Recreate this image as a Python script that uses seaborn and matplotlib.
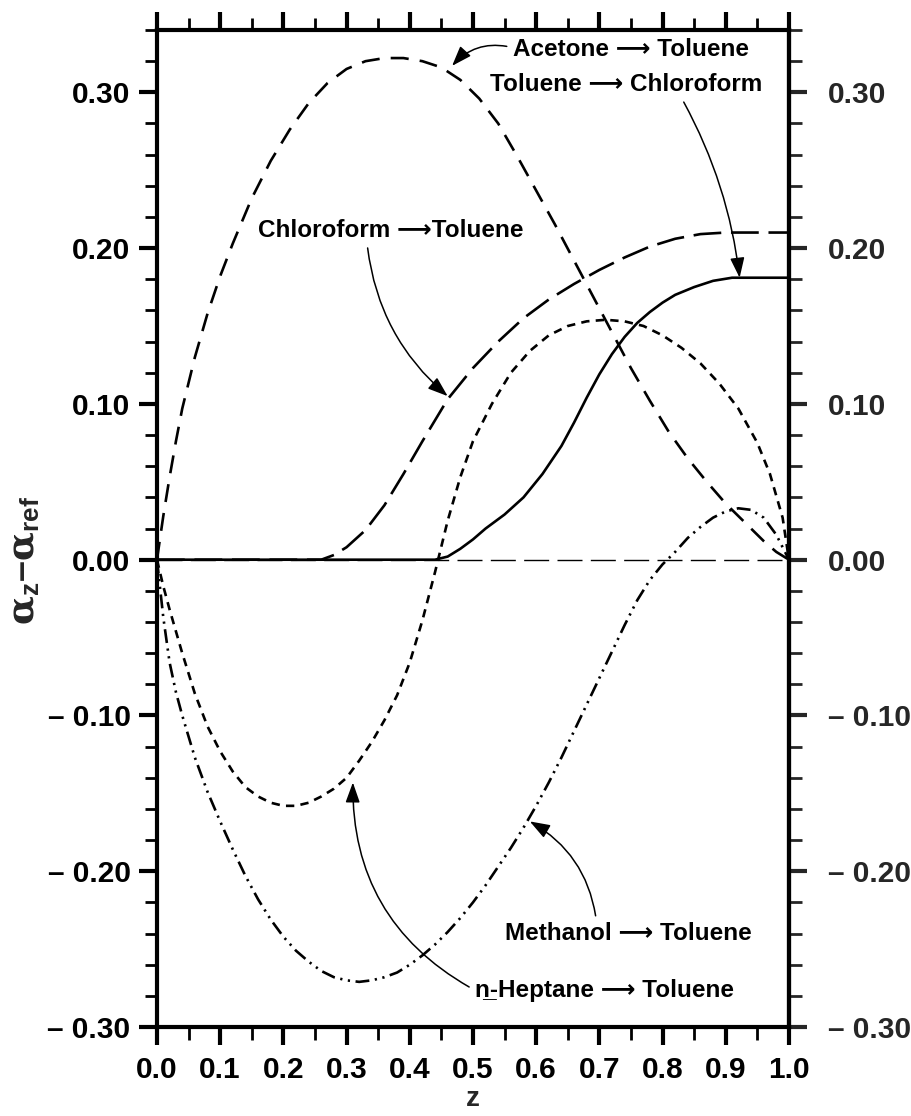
import matplotlib
matplotlib.use("Agg")
import matplotlib.pyplot as plt
import seaborn as sns
from matplotlib.ticker import FixedLocator, MultipleLocator

# ---- data: excess-polarizability profiles along the mixing coordinate z ----
acetone_z = [0.00, 0.01, 0.02, 0.03, 0.04, 0.06, 0.08, 0.10, 0.12, 0.15, 0.18, 0.21,
             0.24, 0.27, 0.30, 0.33, 0.36, 0.39, 0.42, 0.45, 0.48, 0.51, 0.54, 0.57,
             0.60, 0.63, 0.66, 0.69, 0.72, 0.75, 0.78, 0.81, 0.84, 0.87, 0.90, 0.93,
             0.96, 0.98, 1.00]
acetone_y = [0.000, 0.028, 0.053, 0.076, 0.097, 0.130, 0.158, 0.182, 0.203, 0.232, 0.256, 0.276,
             0.293, 0.306, 0.315, 0.320, 0.322, 0.322, 0.320, 0.316, 0.308, 0.296, 0.280, 0.259,
             0.237, 0.215, 0.192, 0.169, 0.146, 0.123, 0.102, 0.082, 0.065, 0.050, 0.036, 0.024,
             0.012, 0.005, 0.000]

chloro_tol_z = [0.00, 0.26, 0.28, 0.30, 0.33, 0.36, 0.39, 0.42, 0.46, 0.50, 0.54, 0.58,
                0.62, 0.66, 0.70, 0.74, 0.78, 0.82, 0.86, 0.90, 0.95, 1.00]
chloro_tol_y = [0.000, 0.000, 0.003, 0.008, 0.019, 0.035, 0.055, 0.076, 0.103, 0.123, 0.140, 0.155,
                0.167, 0.177, 0.186, 0.194, 0.201, 0.206, 0.209, 0.210, 0.210, 0.210]

tol_chloro_z = [0.00, 0.44, 0.46, 0.48, 0.50, 0.52, 0.55, 0.58, 0.61, 0.64, 0.66, 0.68,
                0.70, 0.72, 0.74, 0.76, 0.78, 0.80, 0.82, 0.85, 0.88, 0.91, 0.95, 1.00]
tol_chloro_y = [0.000, 0.000, 0.002, 0.007, 0.013, 0.020, 0.029, 0.040, 0.055, 0.073, 0.088, 0.104,
                0.119, 0.132, 0.143, 0.152, 0.159, 0.165, 0.170, 0.175, 0.179, 0.181, 0.181, 0.181]

heptane_z = [0.00, 0.01, 0.02, 0.04, 0.06, 0.08, 0.10, 0.12, 0.14, 0.16, 0.18, 0.20,
             0.22, 0.24, 0.26, 0.28, 0.30, 0.32, 0.34, 0.36, 0.38, 0.40, 0.42, 0.44,
             0.46, 0.48, 0.50, 0.53, 0.56, 0.59, 0.62, 0.65, 0.68, 0.71, 0.74, 0.77,
             0.80, 0.83, 0.86, 0.89, 0.92, 0.95, 0.97, 0.99, 1.00]
heptane_y = [0.000, -0.017, -0.032, -0.060, -0.086, -0.107, -0.123, -0.136, -0.146, -0.152, -0.156, -0.158,
             -0.158, -0.156, -0.152, -0.147, -0.140, -0.129, -0.117, -0.103, -0.087, -0.066, -0.039, -0.008,
             0.025, 0.053, 0.076, 0.100, 0.120, 0.134, 0.144, 0.150, 0.153, 0.154, 0.153, 0.150,
             0.144, 0.136, 0.126, 0.113, 0.097, 0.075, 0.055, 0.027, 0.000]

methanol_z = [0.00, 0.01, 0.02, 0.03, 0.04, 0.06, 0.08, 0.10, 0.12, 0.14, 0.16, 0.18,
              0.20, 0.22, 0.24, 0.26, 0.28, 0.30, 0.32, 0.34, 0.36, 0.38, 0.40, 0.42,
              0.44, 0.46, 0.48, 0.50, 0.52, 0.54, 0.56, 0.58, 0.60, 0.62, 0.64, 0.66,
              0.68, 0.70, 0.72, 0.74, 0.76, 0.78, 0.80, 0.82, 0.84, 0.86, 0.88, 0.90,
              0.92, 0.94, 0.96, 0.98, 1.00]
methanol_y = [0.000, -0.037, -0.066, -0.085, -0.100, -0.127, -0.149, -0.168, -0.186, -0.203, -0.218, -0.231,
              -0.242, -0.251, -0.258, -0.264, -0.268, -0.270, -0.271, -0.270, -0.268, -0.265, -0.260, -0.254,
              -0.247, -0.239, -0.230, -0.220, -0.209, -0.197, -0.185, -0.172, -0.158, -0.143, -0.127, -0.110,
              -0.093, -0.076, -0.059, -0.042, -0.026, -0.013, -0.003, 0.005, 0.014, 0.021, 0.027, 0.031,
              0.033, 0.032, 0.027, 0.016, 0.000]

x_ticks = [0.0, 0.1, 0.2, 0.3, 0.4, 0.5, 0.6, 0.7, 0.8, 0.9, 1.0]
x_tick_labels = ["0.0", "0.1", "0.2", "0.3", "0.4", "0.5", "0.6", "0.7", "0.8", "0.9", "1.0"]
y_ticks = [-0.30, -0.20, -0.10, 0.00, 0.10, 0.20, 0.30]
y_tick_labels = ["\u2013 0.30", "\u2013 0.20", "\u2013 0.10", "0.00", "0.10", "0.20", "0.30"]

pair_labels = {
    "acetone": "Acetone \u27f6 Toluene",
    "tol_chloro": "Toluene \u27f6 Chloroform",
    "chloro_tol": "Chloroform \u27f6Toluene",
    "methanol": "Methanol \u27f6 Toluene",
    "heptane": "n\u0332-Heptane \u27f6 Toluene",
}

# ---- style ----
sns.set_theme(style="ticks")
plt.rcParams["font.family"] = ["Liberation Sans", "DejaVu Sans"]
plt.rcParams["font.weight"] = "bold"
plt.rcParams["lines.scale_dashes"] = False
plt.rcParams["axes.linewidth"] = 3
plt.rcParams["mathtext.fontset"] = "custom"
plt.rcParams["mathtext.rm"] = "DejaVu Serif"
plt.rcParams["mathtext.it"] = "DejaVu Serif:italic"
plt.rcParams["mathtext.bf"] = "Liberation Sans:bold"

fig = plt.figure(figsize=(9.11, 11.16), dpi=100)
fig.patch.set_facecolor("white")
ax = fig.add_axes([0.1723, 0.0797, 0.6937, 0.8934])
ax.set_facecolor("white")

ink = "black"
ax.axhline(0, color=ink, lw=1.0, linestyle=(0, (18, 6)), zorder=1)

sns.lineplot(x=acetone_z, y=acetone_y, ax=ax, color=ink, lw=1.9,
             linestyle=(0, (13, 8)), estimator=None, sort=False)
sns.lineplot(x=chloro_tol_z, y=chloro_tol_y, ax=ax, color=ink, lw=1.9,
             linestyle=(0, (20, 7)), estimator=None, sort=False)
sns.lineplot(x=tol_chloro_z, y=tol_chloro_y, ax=ax, color=ink, lw=1.9,
             linestyle="-", estimator=None, sort=False)
sns.lineplot(x=heptane_z, y=heptane_y, ax=ax, color=ink, lw=1.9,
             linestyle=(0, (6, 4.5)), estimator=None, sort=False)
sns.lineplot(x=methanol_z, y=methanol_y, ax=ax, color=ink, lw=1.9,
             linestyle=(0, (10, 4, 1.6, 4, 1.6, 4)), estimator=None, sort=False)

ax.set_xlim(0, 1.0)
ax.set_ylim(-0.30, 0.34)

# ---- axes, ticks ----
tick_fs = 21.5
ax.xaxis.set_major_locator(FixedLocator(x_ticks))
ax.set_xticklabels(x_tick_labels)
ax.xaxis.set_minor_locator(MultipleLocator(0.05))
ax.yaxis.set_major_locator(FixedLocator(y_ticks))
ax.set_yticklabels(y_tick_labels)
ax.yaxis.set_minor_locator(MultipleLocator(0.02))

ax.tick_params(axis="x", which="both", direction="out", top=True, bottom=True,
               labelsize=tick_fs, pad=8, colors=ink)
ax.tick_params(axis="y", which="both", direction="out", left=True, right=False,
               labelsize=tick_fs, pad=6, colors=ink)
ax.tick_params(which="major", length=13, width=3)
ax.tick_params(which="minor", length=9, width=2)
for lab in ax.get_xticklabels() + ax.get_yticklabels():
    lab.set_fontweight("bold")

right = ax.secondary_yaxis("right")
right.yaxis.set_major_locator(FixedLocator(y_ticks))
right.set_yticklabels(y_tick_labels)
right.yaxis.set_minor_locator(MultipleLocator(0.02))
right.tick_params(which="major", direction="out", length=13, width=3, labelsize=tick_fs, pad=15)
right.tick_params(which="minor", direction="out", length=9, width=2)
right.spines["right"].set_linewidth(3)
for lab in right.get_yticklabels():
    lab.set_fontweight("bold")

for s in ax.spines.values():
    s.set_linewidth(3)
    s.set_color(ink)

ax.set_xlabel("z", fontsize=20, fontweight="bold", labelpad=1)
ax.set_ylabel(r"$\mathrm{\alpha}_{\mathbf{z}}$" + "\u2013" + r"$\mathrm{\alpha}_{\mathbf{ref}}$",
              fontsize=27, fontweight="bold")
ax.yaxis.set_label_coords(-0.182, 0.468)

# ---- curve labels with pointer arrows ----
def tag(text, xy, xytext, relpos, rad):
    ax.annotate(text, xy=xy, xycoords="data", xytext=xytext, textcoords="axes fraction",
                ha="left", va="center", fontsize=17.5, fontweight="bold", color=ink,
                arrowprops=dict(arrowstyle="-|>,head_length=0.7,head_width=0.25",
                                color=ink, lw=1.1, shrinkA=2, shrinkB=0,
                                relpos=relpos,
                                connectionstyle=f"arc3,rad={rad}"),
                zorder=5)

tag(pair_labels["acetone"], (0.467, 0.317), (0.563, 0.980), (0.0, 0.6), 0.3)
tag(pair_labels["tol_chloro"], (0.922, 0.181), (0.527, 0.945), (0.70, 0.0), -0.1)
tag(pair_labels["chloro_tol"], (0.460, 0.105), (0.160, 0.799), (0.41, 0.0), 0.2)
tag(pair_labels["methanol"], (0.590, -0.168), (0.551, 0.094), (0.37, 1.0), 0.25)
tag(pair_labels["heptane"], (0.310, -0.143), (0.503, 0.037), (0.0, 0.5), -0.3)

fig.savefig("out.png", dpi=100)
